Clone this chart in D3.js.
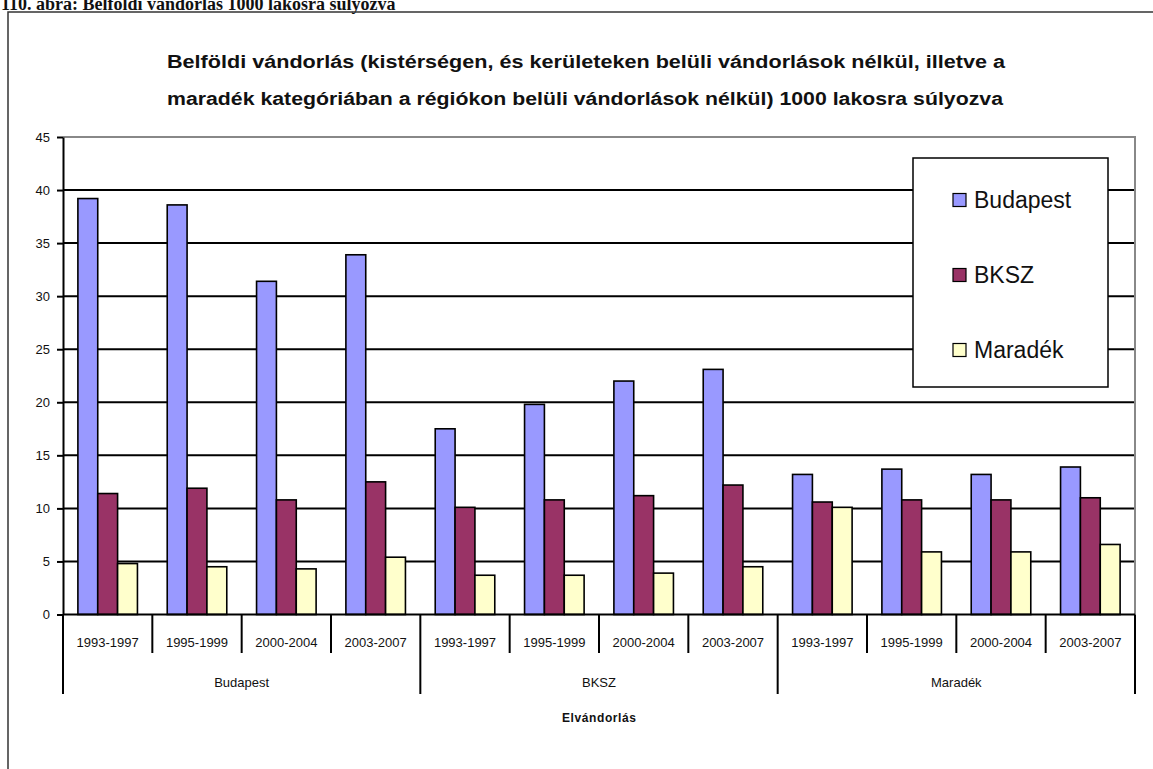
<!DOCTYPE html>
<html>
<head>
  <meta charset="utf-8">
  <title>Belföldi vándorlás</title>
  <script src="https://cdn.jsdelivr.net/npm/d3@7"></script>
  <style>
    body { margin: 0; background: #fff; }
    text { font-family: Arial, "Liberation Sans", sans-serif; fill: #111; }
  </style>
</head>
<body>
  <svg width="1153" height="769" id="mainsvg"></svg>
  <script>
    // data
    const periods = ['1993-1997', '1995-1999', '2000-2004', '2003-2007'];
    const groups = ['Budapest', 'BKSZ', 'Maradék'];
    const seriesNames = ['Budapest', 'BKSZ', 'Maradék'];
    const budapestVals = [39.2, 38.6, 31.4, 33.9, 17.5, 19.8, 22.0, 23.1, 13.2, 13.7, 13.2, 13.9];
    const bkszVals = [11.4, 11.9, 10.8, 12.5, 10.1, 10.8, 11.2, 12.2, 10.6, 10.8, 10.8, 11.0];
    const maradekVals = [4.8, 4.5, 4.3, 5.4, 3.7, 3.7, 3.9, 4.5, 10.1, 5.9, 5.9, 6.6];
    const yTicks = [0, 5, 10, 15, 20, 25, 30, 35, 40, 45];
    const colors = ['#9999FF', '#993366', '#FFFFCC'];

    const svg = d3.select('svg');
    const width = +svg.attr('width');
    const height = +svg.attr('height');
    const plot = {left: 63, right: 1135, top: 137, bottom: 614.5};

    // categories: group x period
    const cats = [];
    groups.forEach((g, gi) => periods.forEach((p, pi) => cats.push({group: g, period: p, i: gi * periods.length + pi})));
    const seriesVals = [budapestVals, bkszVals, maradekVals];

    // header text (cut off at the top of the page)
    svg.append('text')
      .attr('x', 1).attr('y', 10)
      .style('font-family', '"Liberation Serif", "Times New Roman", serif')
      .style('font-weight', 'bold').style('font-size', '18px')
      .text('110. ábra: Belföldi vándorlás 1000 lakosra súlyozva');

    // chart frame
    svg.append('path')
      .attr('d', `M8,${height + 2}V12H${width + 2}`)
      .attr('fill', 'none').attr('stroke', '#333').attr('stroke-width', 1.5);

    // title
    const titleLines = [
      'Belföldi vándorlás (kistérségen, és kerületeken belüli vándorlások nélkül, illetve a',
      'maradék kategóriában a régiókon belüli vándorlások nélkül) 1000 lakosra súlyozva'
    ];
    svg.append('g').selectAll('text').data(titleLines).join('text')
      .attr('x', 167).attr('y', (d, i) => 68 + i * 37)
      .attr('textLength', (d, i) => i === 0 ? 838 : 836)
      .attr('lengthAdjust', 'spacingAndGlyphs')
      .style('font-weight', 'bold').style('font-size', '18px')
      .text(d => d);

    const y = d3.scaleLinear().domain([0, 45]).range([plot.bottom, plot.top]);
    const x0 = d3.scaleBand().domain(cats.map(d => d.i)).range([plot.left, plot.right]);
    const x1 = d3.scaleBand().domain(seriesNames).range([0, x0.bandwidth()]).paddingOuter(0.75);

    // gridlines
    svg.append('g').selectAll('line').data(yTicks.filter(t => t > 0 && t < 45)).join('line')
      .attr('x1', plot.left).attr('x2', plot.right)
      .attr('y1', d => y(d)).attr('y2', d => y(d))
      .attr('stroke', '#000').attr('stroke-width', 2);

    // plot border (top, right)
    svg.append('path')
      .attr('d', `M${plot.left},${y(45)}H${plot.right}V${plot.bottom}`)
      .attr('fill', 'none').attr('stroke', '#888').attr('stroke-width', 2);

    // bars
    const barG = svg.append('g');
    seriesNames.forEach((s, si) => {
      barG.append('g').selectAll('rect').data(cats).join('rect')
        .attr('x', d => x0(d.i) + x1(s))
        .attr('y', d => y(seriesVals[si][d.i]))
        .attr('width', x1.bandwidth())
        .attr('height', d => y(0) - y(seriesVals[si][d.i]))
        .attr('fill', colors[si])
        .attr('stroke', '#000').attr('stroke-width', 1.6);
    });

    // y axis
    const yAxis = svg.append('g')
      .attr('transform', `translate(${plot.left},0)`)
      .call(d3.axisLeft(y).tickValues(yTicks).tickSize(6).tickSizeOuter(0).tickPadding(7));
    yAxis.select('.domain').attr('stroke', '#000').attr('stroke-width', 2);
    yAxis.selectAll('.tick line').attr('stroke', '#000').attr('stroke-width', 2);
    yAxis.selectAll('.tick text')
      .style('font-family', 'Arial, "Liberation Sans", sans-serif')
      .style('font-size', '13px').attr('fill', '#111');

    // x axis baseline
    svg.append('line')
      .attr('x1', plot.left).attr('x2', plot.right)
      .attr('y1', y(0)).attr('y2', y(0))
      .attr('stroke', '#000').attr('stroke-width', 2);

    // category ticks and labels
    const boundaries = d3.range(cats.length + 1);
    svg.append('g').selectAll('line').data(boundaries).join('line')
      .attr('x1', d => d < cats.length ? x0(d) : plot.right)
      .attr('x2', d => d < cats.length ? x0(d) : plot.right)
      .attr('y1', y(0))
      .attr('y2', d => d % periods.length === 0 ? 694 : 653)
      .attr('stroke', '#000').attr('stroke-width', 2);

    svg.append('g').selectAll('text').data(cats).join('text')
      .attr('x', d => x0(d.i) + x0.bandwidth() / 2)
      .attr('y', 646.5)
      .attr('text-anchor', 'middle')
      .style('font-size', '13px')
      .text(d => d.period);

    svg.append('g').selectAll('text').data(groups).join('text')
      .attr('x', (d, gi) => x0(gi * periods.length) + x0.bandwidth() * periods.length / 2)
      .attr('y', 686.5)
      .attr('text-anchor', 'middle')
      .style('font-size', '13px')
      .text(d => d);

    svg.append('text')
      .attr('x', (plot.left + plot.right) / 2).attr('y', 721.5)
      .attr('text-anchor', 'middle')
      .style('font-size', '12px').style('font-weight', 'bold')
      .attr('textLength', 74).attr('lengthAdjust', 'spacing')
      .text('Elvándorlás');

    // legend
    const legend = svg.append('g');
    legend.append('rect')
      .attr('x', 913).attr('y', 158).attr('width', 195).attr('height', 229)
      .attr('fill', '#fff').attr('stroke', '#000').attr('stroke-width', 1.5);
    const legendRows = legend.selectAll('g.row').data(seriesNames).join('g')
      .attr('class', 'row')
      .attr('transform', (d, i) => `translate(953,${200 + i * 75})`);
    legendRows.append('rect')
      .attr('x', 0).attr('y', -6.5).attr('width', 13).attr('height', 13)
      .attr('fill', (d, i) => colors[i])
      .attr('stroke', '#000').attr('stroke-width', 1.2);
    legendRows.append('text')
      .attr('x', 21).attr('y', 8)
      .style('font-size', '23px')
      .text(d => d);
  </script>
</body>
</html>
